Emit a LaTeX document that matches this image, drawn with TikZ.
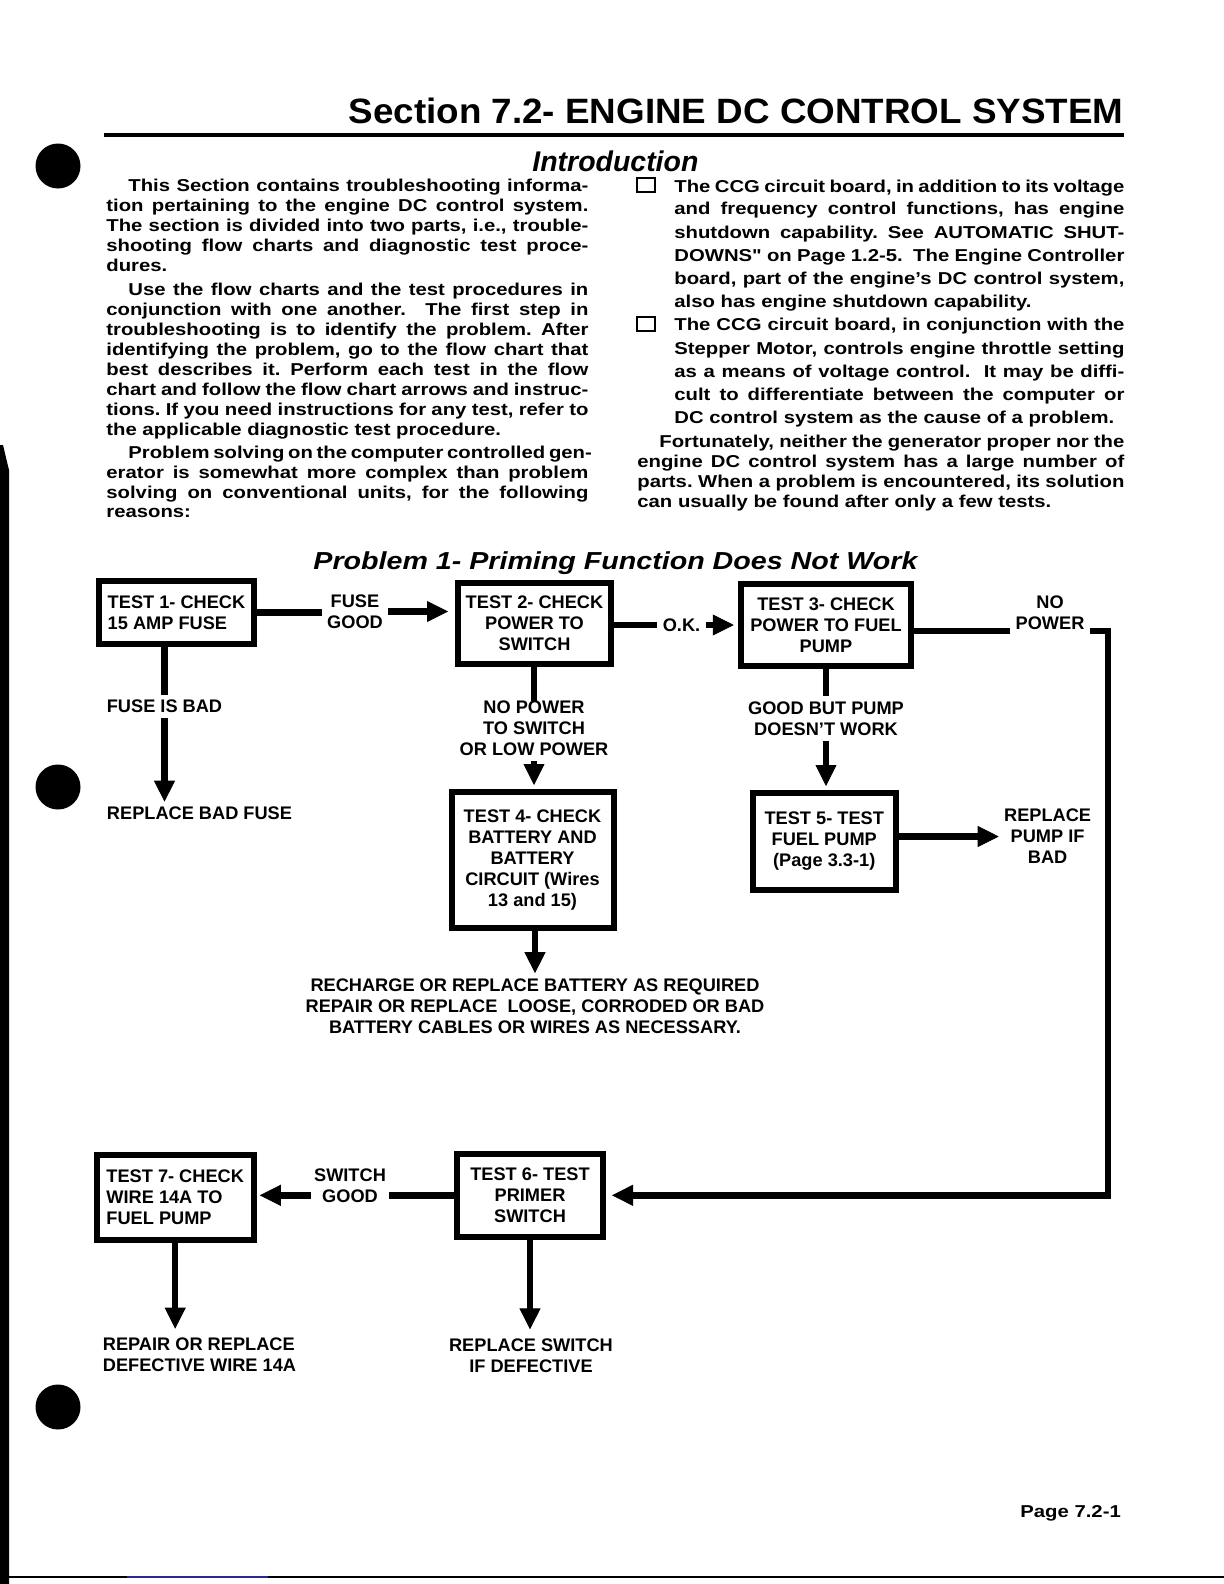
\documentclass[tikz,border=0pt]{standalone}
\usepackage{fontspec}
\setmainfont{Liberation Sans}
\newfontfamily\stretchedsans{Liberation Sans}[FakeStretch=1.18]
\usepackage{graphicx}
\usetikzlibrary{arrows.meta}
\definecolor{scanblue}{RGB}{40,40,150}
\frenchspacing
\newcommand\mybody{\stretchedsans\bfseries\fontsize{8.6}{10}\selectfont\frenchspacing}
\newcommand\mybox{\fontsize{9.1}{10.5}\selectfont\bfseries}
\newcommand\justln[5]{\node[anchor=base west,inner sep=0pt,font=\mybody] (#1) at (#2,#3) {\makebox[#4][s]{#5}};}
\newcommand\plainln[4]{\node[anchor=base west,inner sep=0pt,font=\mybody] (#1) at (#2,#3) {#4};}
\tikzset{
  box/.style={draw, line width=3pt, inner sep=0pt, font=\mybox, align=center},
  lbl/.style={inner sep=2.5pt, font=\mybox, align=center},
  conn/.style={line width=3.2pt},
  arr/.style={line width=3.2pt, -{Triangle[length=10.5pt,width=10.5pt,line width=0.4pt]}},
  chk/.style={draw, line width=0.9pt, inner sep=0pt, minimum width=9pt, minimum height=6.7pt},
}
\begin{document}
\begin{tikzpicture}[x=0.5pt,y=-0.5pt]
\useasboundingbox (0,0) rectangle (1224,1584);
\fill[white] (0,0) rectangle (1224,1584);

% scan edges and punch holes
\fill (0,445) -- (3,445) -- (9,470) -- (9,1584) -- (0,1584) -- cycle;
\draw[line width=1.1pt] (0,1577) -- (1224,1577);
\draw[line width=1.1pt, scanblue] (127,1577) -- (268,1577);
\fill (58,166) circle[radius=22.5];
\fill (58,787) circle[radius=22.5];
\fill (58,1407) circle[radius=22.5];

% header
\node[anchor=base east, inner sep=0pt] (title) at (1124,124)
  {\resizebox{387.5pt}{12.75pt}{\fontsize{17.5}{20}\selectfont\bfseries Section 7.2- ENGINE DC CONTROL SYSTEM}};
\draw[line width=2pt] (104,135) -- (1124,135);
\node[anchor=base west, inner sep=0pt] (intro) at (532,172)
  {\resizebox{83pt}{!}{\fontsize{14.5}{16}\selectfont\bfseries\itshape Introduction}};

% left column
\justln{L1}{128}{191.7}{230pt}{This Section contains troubleshooting informa-}
\justln{L2}{106}{211.7}{241pt}{tion pertaining to the engine DC control system.}
\justln{L3}{106}{231.7}{241pt}{The section is divided into two parts, i.e., trouble-}
\justln{L4}{106}{251.7}{241pt}{shooting flow charts and diagnostic test proce-}
\plainln{L5}{106}{271.7}{dures.}
\justln{L6}{128}{295}{230pt}{Use the flow charts and the test procedures in}
\justln{L7}{106}{315}{241pt}{conjunction with one another.\ \ The first step in}
\justln{L8}{106}{335}{241pt}{troubleshooting is to identify the problem. After}
\justln{L9}{106}{355}{241pt}{identifying the problem, go to the flow chart that}
\justln{L10}{106}{375}{241pt}{best describes it. Perform each test in the flow}
\justln{L11}{106}{395}{241pt}{chart and follow the flow chart arrows and instruc-}
\justln{L12}{106}{415}{241pt}{tions. If you need instructions for any test, refer to}
\plainln{L13}{106}{435}{the applicable diagnostic test procedure.}
\justln{L14}{128}{458}{230pt}{Problem solving on the computer controlled gen-}
\justln{L15}{106}{478}{241pt}{erator is somewhat more complex than problem}
\justln{L16}{106}{498}{241pt}{solving on conventional units, for the following}
\plainln{L17}{106}{517}{reasons:}

% right column
\node[chk] (cb1) at (646,185) {};
\node[chk] (cb2) at (646,324) {};
\justln{R1}{674}{192}{225pt}{The CCG circuit board, in addition to its voltage}
\justln{R2}{674}{214.5}{225pt}{and frequency control functions, has engine}
\justln{R3}{674}{238}{225pt}{shutdown capability. See AUTOMATIC SHUT-}
\justln{R4}{674}{261.5}{225pt}{DOWNS" on Page 1.2-5.\ \ The Engine Controller}
\justln{R5}{674}{284.5}{225pt}{board, part of the engine’s DC control system,}
\plainln{R6}{674}{307.5}{also has engine shutdown capability.}
\justln{R7}{674}{330.5}{225pt}{The CCG circuit board, in conjunction with the}
\justln{R8}{674}{354}{225pt}{Stepper Motor, controls engine throttle setting}
\justln{R9}{674}{377}{225pt}{as a means of voltage control.\ \ It may be diffi-}
\justln{R10}{674}{400}{225pt}{cult to differentiate between the computer or}
\plainln{R11}{674}{423.5}{DC control system as the cause of a problem.}
\justln{R12}{659}{447}{232.5pt}{Fortunately, neither the generator proper nor the}
\justln{R13}{637}{467}{243.5pt}{engine DC control system has a large number of}
\justln{R14}{637}{487}{243.5pt}{parts. When a problem is encountered, its solution}
\plainln{R15}{637}{507}{can usually be found after only a few tests.}

% flow chart title
\node[anchor=base west, inner sep=0pt] (subtitle) at (313,569.5)
  {\resizebox{302pt}{8.9pt}{\fontsize{13}{15}\selectfont\bfseries\itshape Problem 1- Priming Function Does Not Work}};

% boxes
\node[box, align=left, minimum width=77.5pt, minimum height=31.5pt] (t1) at (176.5,612.5) {TEST 1- CHECK\\15 AMP FUSE};
\node[box, minimum width=76.5pt, minimum height=40.5pt] (t2) at (534.5,623.5) {TEST 2- CHECK\\POWER TO\\SWITCH};
\node[box, minimum width=85.25pt, minimum height=40.75pt] (t3) at (826,625.2) {TEST 3- CHECK\\POWER TO FUEL\\PUMP};
\node[box, minimum width=81pt, minimum height=68pt] (t4) at (532.5,860) {TEST 4- CHECK\\BATTERY AND\\BATTERY\\CIRCUIT (Wires\\13 and 15)};
\node[box, minimum width=71.25pt, minimum height=48.5pt] (t5) at (824.25,841.5) {TEST 5- TEST\\FUEL PUMP\\(Page 3.3-1)};
\node[box, minimum width=73pt, minimum height=41.3pt] (t6) at (530,1195.3) {TEST 6- TEST\\PRIMER\\SWITCH};
\node[box, align=left, minimum width=78.6pt, minimum height=42.75pt] (t7) at (175.2,1197.25) {TEST 7- CHECK\\WIRE 14A TO\\FUEL PUMP};

% labels
\node[lbl] (fusegood) at (355,611.5) {FUSE\\GOOD};
\node[lbl] (ok) at (681.5,625) {O.K.};
\node[lbl] (nopower) at (1050,612.5) {NO\\POWER};
\node[lbl] (fusebad) at (164.5,706.5) {FUSE IS BAD};
\node[lbl] (replfuse) at (199.5,813.5) {REPLACE BAD FUSE};
\node[lbl] (nosw) at (534,728) {NO POWER\\TO SWITCH\\OR LOW POWER};
\node[lbl] (goodbut) at (826,718.5) {GOOD BUT PUMP\\DOESN’T WORK};
\node[lbl] (replpump) at (1047.6,836.5) {REPLACE\\PUMP IF\\BAD};
\node[lbl] (recharge) at (535,1006) {RECHARGE OR REPLACE BATTERY AS REQUIRED\\REPAIR OR REPLACE\ \ LOOSE, CORRODED OR BAD\\BATTERY CABLES OR WIRES AS NECESSARY.};
\node[lbl, inner xsep=1.5pt] (swgood) at (350,1186) {SWITCH\\GOOD};
\node[lbl, align=left] (repwire) at (199.5,1355) {REPAIR OR REPLACE\\DEFECTIVE WIRE 14A};
\node[lbl] (repswitch) at (531,1355.7) {REPLACE SWITCH\\IF DEFECTIVE};

% helper coordinates
\coordinate (npy) at (0,631);
\coordinate (cR) at (1108,1195.3);

% connectors
\draw[conn] (t1.east) -- (t1.east -| fusegood.west);
\draw[arr, shorten >=3.5pt] (fusegood.east) -- (fusegood.east -| t2.west);
\draw[conn] (ok.west -| t2.east) -- (ok.west);
\draw[arr, shorten >=2pt] (ok.east) -- (ok.east -| t3.west);
\draw[conn] (npy -| t3.east) -- (npy -| nopower.west);
\draw[arr, shorten >=3pt] (npy -| nopower.east) -| (cR) -- (cR -| t6.east);

\draw[conn] (t1.south -| fusebad) -- (fusebad.north);
\draw[arr] (fusebad.south) -- (fusebad.south |- replfuse.north);

\draw[conn] (t2.south -| nosw) -- ([yshift=-3pt]nosw.north);
\draw[arr, shorten >=2pt] (nosw.south) -- (nosw.south |- t4.north);
\draw[arr] (t4.south -| recharge) -- (recharge.north);

\draw[conn] (t3.south -| goodbut) -- (goodbut.north);
\draw[arr, shorten >=2pt] (goodbut.south) -- (goodbut.south |- t5.north);
\draw[arr] (t5.east |- replpump.west) -- (replpump.west);

\draw[conn] (t6.west) -- (t6.west -| swgood.east);
\draw[arr, shorten >=1.5pt] (t6.west -| swgood.west) -- (t6.west -| t7.east);
\draw[arr, shorten >=2pt] (t7.south) -- (t7.south |- repwire.north);
\draw[arr, shorten >=2pt] (t6.south) -- (t6.south |- repswitch.north);

% page number
\plainln{page}{1020}{1517}{Page 7.2-1}
\end{tikzpicture}
\end{document}
